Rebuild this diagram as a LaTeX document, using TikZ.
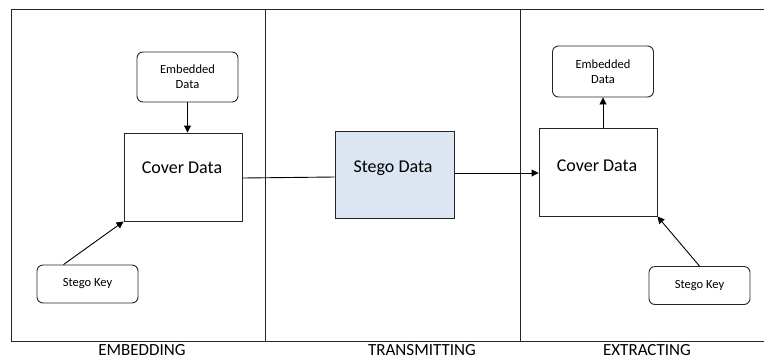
\documentclass[tikz,border=0pt]{standalone}
\usepackage{fontspec}
\setmainfont{Carlito}
\usetikzlibrary{arrows.meta}
\definecolor{stegoblue}{HTML}{DCE6F2}
\definecolor{linegray}{HTML}{262626}
\begin{document}
\begin{tikzpicture}[x=1bp,y=-1bp,
  frame/.style={draw=linegray,line width=0.9bp},
  bigbox/.style={draw=linegray,line width=0.9bp,minimum width=118bp,minimum height=88bp,inner sep=0pt},
  roundbox/.style={draw=linegray,line width=0.9bp,rounded corners=6bp,minimum width=101bp,minimum height=38bp,inner sep=0pt,align=center,font=\fontsize{12.5bp}{15bp}\selectfont},
  bigtxt/.style={font=\fontsize{18bp}{21bp}\selectfont,inner sep=0pt},
  captxt/.style={font=\fontsize{17bp}{20bp}\selectfont,inner sep=0pt,anchor=base},
  arr/.style={draw=black,line width=0.9bp,-{Triangle[length=7bp,width=7bp]}},
  conn/.style={draw=black,line width=0.9bp}]
\useasboundingbox (0,0) rectangle (764,360);
% frame and dividers
\draw[frame] (770,9) -- (11,9) -- (11,341) -- (770,341);
\draw[frame] (265,9) -- (265,341);
\draw[frame] (520,9) -- (520,341);
% embedding
\node[roundbox,minimum height=50bp] (ed1) at (187.5,77) {Embedded\\Data};
\node[bigbox] (cd1) at (183,177) {};
\node[bigtxt] at (182,168) {Cover Data};
\node[roundbox] (sk1) at (87.5,284) {Stego Key};
% transmitting
\node[bigbox,fill=stegoblue,minimum width=119bp,minimum height=87bp] (sd) at (394.5,174.5) {};
\node[bigtxt] at (393,168) {Stego Data};
% extracting
\node[roundbox,minimum height=51bp] (ed2) at (603,71.5) {Embedded\\Data};
\node[bigbox] (cd2) at (598,172) {};
\node[bigtxt] at (597,166) {Cover Data};
\node[roundbox] (sk2) at (699.5,285.5) {Stego Key};
% connectors
\draw[arr] (ed1.south) -- (ed1.south |- cd1.north);
\draw[arr] ([xshift=-24bp]sk1.north) -- (cd1.south west);
\draw[conn] (cd1.east |- 0,178) -- (sd.west |- 0,177);
\draw[arr] (sd.east |- 0,173) -- (cd2.west |- 0,173);
\draw[arr] (cd2.north -| ed2.south) -- (ed2.south);
\draw[arr] (sk2.north) -- (cd2.south east);
% captions
\node[captxt] (l1) at (142,355) {EMBEDDING};
\node[captxt] (l2) at (422,355) {TRANSMITTING};
\node[captxt] (l3) at (647,355) {EXTRACTING};
\end{tikzpicture}
\end{document}
